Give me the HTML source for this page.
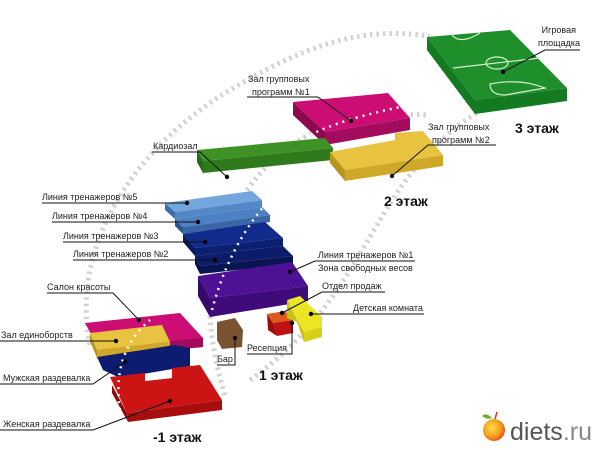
<!DOCTYPE html>
<html><head><meta charset="utf-8"><style>
html,body{margin:0;padding:0;background:#fff;}
svg{display:block;}
text{font-family:"Liberation Sans",sans-serif;font-size:9px;fill:#222;}
.b{font-weight:bold;font-size:14px;fill:#111;}
.ln{stroke:#111;stroke-width:1;fill:none;}
.ch{fill:none;stroke:#d2d2d2;stroke-width:5;stroke-dasharray:2.5 4;}
.cw{fill:none;stroke:#fff;stroke-width:2.5;stroke-dasharray:2 5;}
</style></head><body>
<svg width="604" height="450" viewBox="0 0 604 450">
<defs><radialGradient id="ap" cx="0.4" cy="0.4" r="0.7"><stop offset="0" stop-color="#ffe04a"/><stop offset="0.6" stop-color="#f29a1a"/><stop offset="1" stop-color="#e0341a"/></radialGradient></defs>
<path class="ch" d="M90,345 C70,250 130,150 230,90 S380,30 430,36"/>
<path class="ch" d="M225,395 C205,330 200,260 240,200 S330,110 430,115"/>
<path class="ch" d="M250,380 C320,330 350,270 380,220 S440,130 500,100"/>

<!-- Floor 3 field -->
<polygon points="427,37 427,50 475,114 567,101 567,88 475,100" fill="#137a22"/>
<polygon points="427,37 510,30 567,88 475,100" fill="#1f8f2b"/>
<g stroke="#d8f0d0" stroke-width="1.2" fill="none">
<line x1="453" y1="68" x2="540" y2="58"/>
<ellipse cx="497" cy="63" rx="11" ry="6"/>
<path d="M452,35 Q460,45 480,33"/>
<path d="M490,84 Q490,95 505,95 L545,88 Q520,78 490,84Z"/>
</g>

<!-- Floor 2 -->
<polygon points="293,102 325,132 325,145 293,115" fill="#8e0850"/>
<polygon points="325,132 410,118 410,130 325,145" fill="#a30b5e"/>
<polygon points="293,102 388,93 410,118 325,132" fill="#cc0e74"/>
<polygon points="197,150 203,161 203,173 197,162" fill="#246a14"/>
<polygon points="203,161 333,148 333,160 203,173" fill="#2f7a1a"/>
<polygon points="197,150 325,138 333,148 203,161" fill="#3e9225"/>
<polygon points="330,152 345,170 345,181 330,163" fill="#b8951e"/>
<polygon points="345,170 443,155 443,166 345,181" fill="#cfa82a"/>
<polygon points="330,152 395,140 395,133 423,131 443,155 345,170" fill="#e8c340"/>
<path class="cw" d="M310,135 C330,125 360,115 410,105"/>

<!-- Floor 1 stair -->
<polygon points="165,203 175,212 175,219 165,210" fill="#3e6fa8"/>
<polygon points="175,212 262,200 262,207 175,219" fill="#5387c6"/>
<polygon points="165,203 252,191 262,200 175,212" fill="#74a6de"/>
<polygon points="175,219 183,227 183,234 175,226" fill="#2b5590"/>
<polygon points="183,227 270,215 270,222 183,234" fill="#3a66a8"/>
<polygon points="175,219 262,207 270,215 183,227" fill="#4d80c4"/>
<polygon points="183,234 195,248 195,256 183,242" fill="#081a5c"/>
<polygon points="195,248 283,238 283,246 195,256" fill="#0b2070"/>
<polygon points="183,234 265,222 283,238 195,248" fill="#112b8c"/>
<polygon points="195,256 200,266 200,274 195,264" fill="#050e40"/>
<polygon points="200,266 293,256 293,264 200,274" fill="#081552"/>
<polygon points="195,256 283,246 293,256 200,266" fill="#0c1c6a"/>
<polygon points="198,276 210,298 210,317 198,296" fill="#360868"/>
<polygon points="210,298 308,286 308,301 210,317" fill="#3f0b7a"/>
<polygon points="198,276 292,262 308,286 210,298" fill="#4e1094"/>
<path class="cw" d="M212,310 C220,280 235,240 265,205"/>

<!-- Bar, reception, kids -->
<polygon points="217,322 235,318 243,330 242,347 222,349 217,340" fill="#7a5232"/>
<polygon points="273,323 293,320 293,333 277,336" fill="#bf1212"/>
<polygon points="267,314 273,323 277,336 268,330" fill="#9a0d0d"/>
<polygon points="267,314 285,311 293,320 273,323" fill="#dc5a1c"/>
<polygon points="287,300 287,318 297,322 304,342 304,332" fill="#c8c214"/>
<polygon points="304,332 322,327 322,337 304,342" fill="#d8d018"/>
<polygon points="287,300 300,296 322,317 322,327 304,332 297,318" fill="#ece424"/>

<!-- Floor -1 -->
<polygon points="85,323 180,313 203,338 203,347 150,352 100,350" fill="#cc0e74"/>
<polygon points="150,343 203,338 203,347 150,352" fill="#a00b5c"/>
<polygon points="90,333 97,350 97,358 90,341" fill="#b8951e"/>
<polygon points="97,350 170,342 170,350 97,358" fill="#cfa82a"/>
<polygon points="90,333 162,325 170,342 97,350" fill="#e8c340"/>
<polygon points="97,357 175,345 190,348 190,366 120,378 103,370" fill="#0c1c70"/>
<polygon points="112,385 127,413 128,422 112,393" fill="#8e0a0a"/>
<polygon points="127,413 222,400 222,410 128,422" fill="#a80d0d"/>
<polygon points="110,377 145,373 145,381 172,378 172,368 200,365 222,400 127,413" fill="#cc1414"/>
<polygon points="145,375 172,372 172,378 145,381" fill="#fff"/>
<path class="cw" d="M120,410 C115,380 120,345 150,320"/>

<g class="ln">
<path d="M580,50 L545,50 L503,72"/>
<path d="M247,97 L318,97 L351,121"/>
<path d="M152,152 L200,152 L227,177"/>
<path d="M496,145 L428,145 L392,176"/>
<path d="M42,203 L187,203"/>
<path d="M52,222 L198,222"/>
<path d="M63,242 L205,242"/>
<path d="M73,260 L215,260"/>
<path d="M415,261 L315,261 L290,272"/>
<path d="M385,292 L322,292 L282,313"/>
<path d="M424,314 L311,314"/>
<path d="M247,354 L292,354 L292,323"/>
<path d="M217,365 L235,365 L235,338"/>
<path d="M47,293 L113,293 L139,320"/>
<path d="M0,341 L116,341"/>
<path d="M0,384 L93,384 L125,362"/>
<path d="M0,430 L93,430 L170,401"/>
</g>
<g fill="#000">
<circle cx="503" cy="72" r="2.2"/><circle cx="351" cy="121" r="2.2"/><circle cx="227" cy="177" r="2.2"/><circle cx="392" cy="176" r="2.2"/>
<circle cx="187" cy="203" r="2.2"/><circle cx="198" cy="222" r="2.2"/><circle cx="205" cy="242" r="2.2"/><circle cx="215" cy="260" r="2.2"/>
<circle cx="290" cy="272" r="2.2"/><circle cx="282" cy="313" r="2.2"/><circle cx="311" cy="314" r="2.2"/><circle cx="292" cy="323" r="2.2"/><circle cx="235" cy="338" r="2.2"/>
<circle cx="139" cy="320" r="2.2"/><circle cx="116" cy="341" r="2.2"/><circle cx="125" cy="362" r="2.2"/><circle cx="170" cy="401" r="2.2"/>
</g>

<text x="580" y="46" text-anchor="end">площадка</text>
<text x="576" y="33" text-anchor="end">Игровая</text>
<text x="248" y="82">Зал групповых</text>
<text x="252" y="95">программ №1</text>
<text x="153" y="149">Кардиозал</text>
<text x="428" y="130">Зал групповых</text>
<text x="432" y="143">программ №2</text>
<text x="42" y="200">Линия тренажеров №5</text>
<text x="52" y="219">Линия тренажеров №4</text>
<text x="63" y="239">Линия тренажеров №3</text>
<text x="73" y="257">Линия тренажеров №2</text>
<text x="318" y="258">Линия тренажеров №1</text>
<text x="318" y="271">Зона свободных весов</text>
<text x="322" y="289">Отдел продаж</text>
<text x="353" y="311">Детская комната</text>
<text x="247" y="351">Ресепция</text>
<text x="217" y="362">Бар</text>
<text x="47" y="290">Салон красоты</text>
<text x="1" y="338">Зал единоборств</text>
<text x="3" y="381">Мужская раздевалка</text>
<text x="3" y="427">Женская раздевалка</text>
<text class="b" x="515" y="133">3 этаж</text>
<text class="b" x="384" y="206">2 этаж</text>
<text class="b" x="259" y="380">1 этаж</text>
<text class="b" x="153" y="442">-1 этаж</text>

<circle cx="494" cy="430" r="11" fill="url(#ap)"/>
<path d="M492,418 Q486,412 482,416 Q487,420 492,418Z" fill="#6bb02a"/>
<path d="M495,419 L497,412" stroke="#e0341a" stroke-width="1.5"/>
<text x="510" y="440" style="font-size:25px;fill:#555;font-family:'Liberation Sans',sans-serif;">diets<tspan style="fill:#888">.ru</tspan></text>
</svg>
</body></html>
